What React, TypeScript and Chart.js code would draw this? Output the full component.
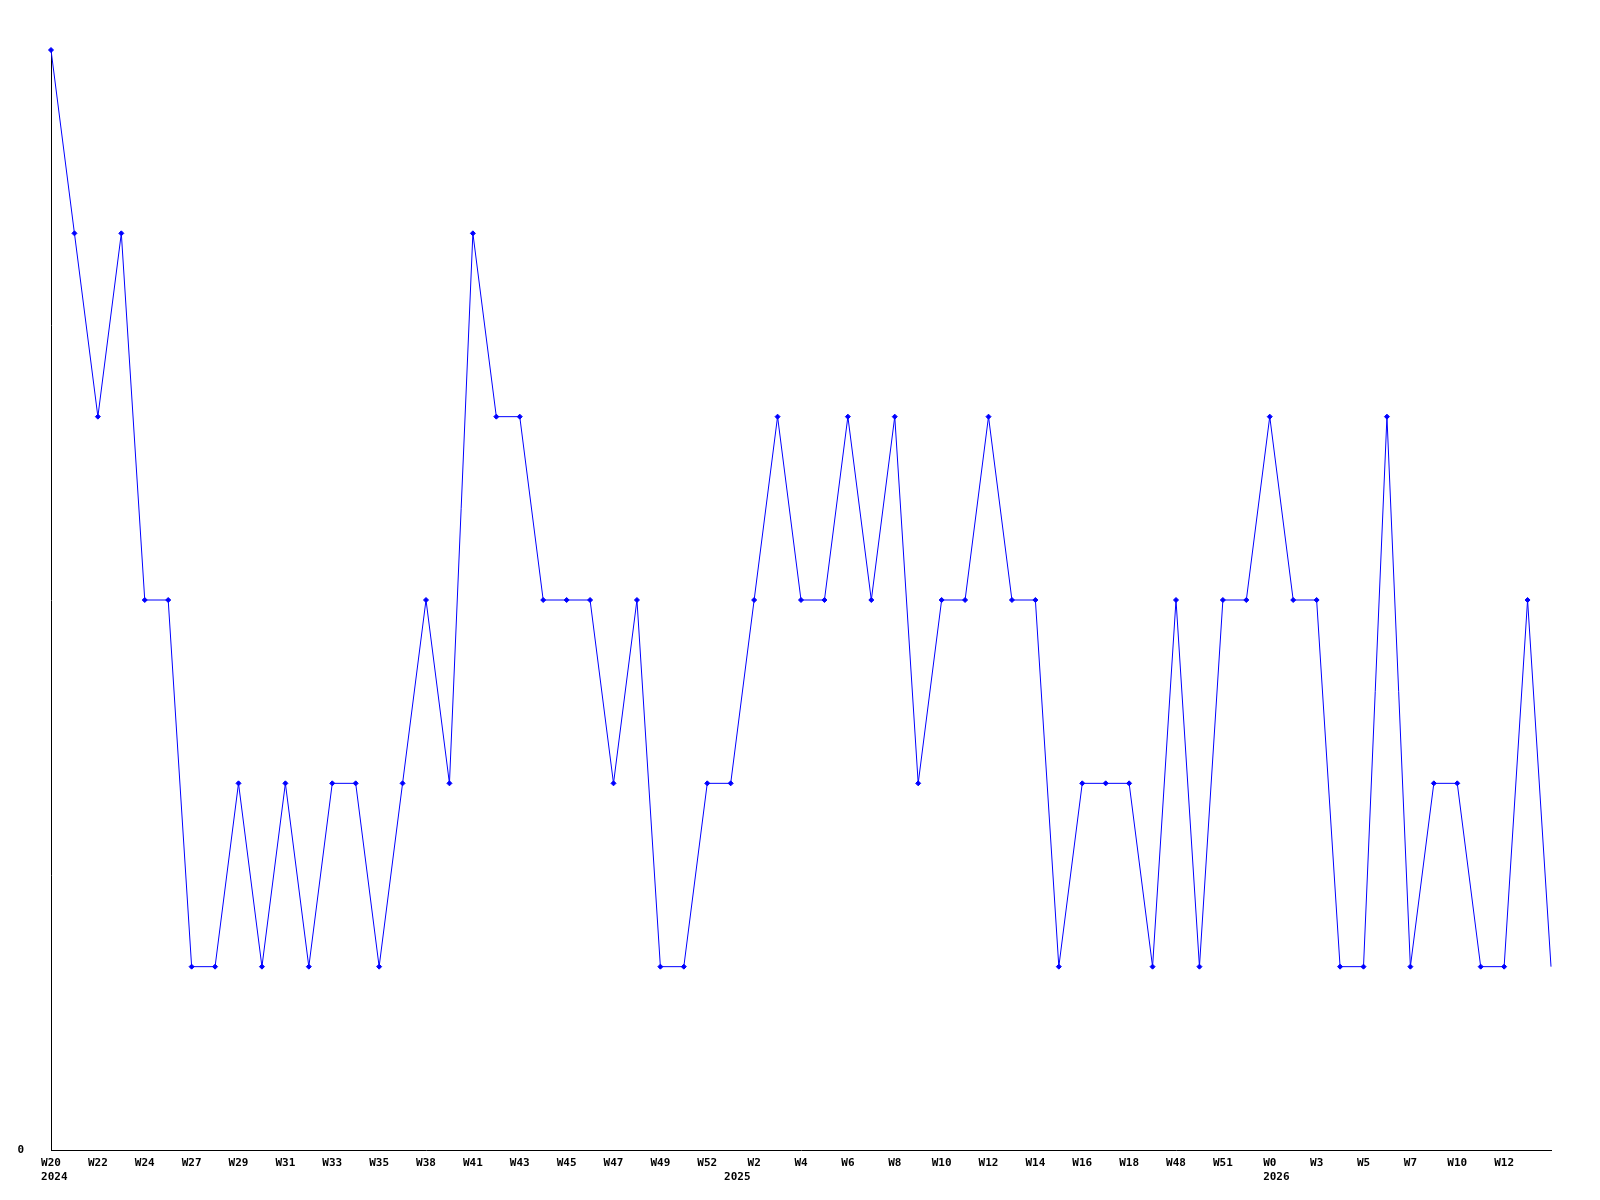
import React, { useEffect, useRef } from "react";
import { Chart, registerables } from "chart.js";

Chart.register(...registerables);

const weekLabels: string[] = [
  "W20", "W21", "W22", "W23", "W24", "W25", "W27", "W28", "W29", "W30",
  "W31", "W32", "W33", "W34", "W35", "W36", "W38", "W39", "W41", "W42",
  "W43", "W44", "W45", "W46", "W47", "W48", "W49", "W50", "W52", "W1",
  "W2", "W3", "W4", "W5", "W6", "W7", "W8", "W9", "W10", "W11",
  "W12", "W13", "W14", "W15", "W16", "W17", "W18", "W19", "W48", "W50",
  "W51", "W52", "W0", "W1", "W3", "W4", "W5", "W6", "W7", "W8",
  "W10", "W11", "W12", "W13", "W14",
];

const values: number[] = [
  6, 5, 4, 5, 3, 3, 1, 1, 2, 1,
  2, 1, 2, 2, 1, 2, 3, 2, 5, 4,
  4, 3, 3, 3, 2, 3, 1, 1, 2, 2,
  3, 4, 3, 3, 4, 3, 4, 2, 3, 3,
  4, 3, 3, 1, 2, 2, 2, 1, 3, 1,
  3, 3, 4, 3, 3, 1, 1, 4, 1, 2,
  2, 1, 1, 3, 1,
];

// first week index of each year, and the year text
const yearTickIndex: number[] = [0, 29, 52];
const yearTickText: string[] = ["2024", "2025", "2026"];

const yTickValues: number[] = [0];

const FONT_FAMILY = "'DejaVu Sans Mono', monospace";
const FONT_SIZE = 11;

export default function App() {
  const ref = useRef<HTMLCanvasElement | null>(null);

  useEffect(() => {
    if (!ref.current) return;
    const lastIdx = values.length - 1;
    const font = { family: FONT_FAMILY, size: FONT_SIZE, weight: "bold" as const, lineHeight: 1.36 };

    const yearPlugin = {
      id: "yearLabels",
      afterDraw(chart: any) {
        const xs = chart.scales.x;
        const ctx = chart.ctx;
        ctx.save();
        ctx.font = `bold ${FONT_SIZE}px ${FONT_FAMILY}`;
        ctx.fillStyle = "#000000";
        ctx.textAlign = "left";
        ctx.textBaseline = "middle";
        yearTickIndex.forEach((idx, k) => {
          const px = xs.getPixelForValue(idx);
          const w = ctx.measureText(weekLabels[idx]).width;
          ctx.fillText(yearTickText[k], px - w / 2, xs.top + 27);
        });
        ctx.restore();
      },
    };

    const chart = new Chart(ref.current, {
      type: "line",
      data: {
        labels: weekLabels,
        datasets: [
          {
            data: values,
            borderColor: "#0000ff",
            backgroundColor: "#0000ff",
            borderWidth: 1,
            tension: 0,
            pointStyle: "rectRot",
            pointRadius: values.map((_, i) => (i === lastIdx ? 0 : 2.5)),
            pointBorderWidth: 1,
            fill: false,
            clip: false,
          },
        ],
      },
      options: {
        animation: false,
        responsive: false,
        devicePixelRatio: 1,
        layout: { padding: { top: 50, right: 49, left: 0, bottom: 0 } },
        plugins: { legend: { display: false }, tooltip: { enabled: false } },
        scales: {
          x: {
            type: "category",
            offset: false,
            grid: { display: false, drawTicks: false },
            border: { display: true, color: "#000000", width: 1 },
            ticks: {
              autoSkip: false,
              maxRotation: 0,
              minRotation: 0,
              padding: 6,
              color: "#000000",
              font,
              callback: (_v: any, i: number) => {
                if (i % 2 !== 0 || i === lastIdx) return "";
                return weekLabels[i];
              },
            },
            afterFit: (scale: any) => {
              scale.height = 50;
            },
          },
          y: {
            min: 0,
            max: 6,
            grid: { display: false, drawTicks: false },
            border: { display: true, color: "#000000", width: 1 },
            ticks: {
              padding: 27,
              color: "#000000",
              font,
            },
            afterBuildTicks: (scale: any) => {
              scale.ticks = yTickValues.map((v) => ({ value: v }));
            },
            afterFit: (scale: any) => {
              scale.width = 51;
            },
          },
        },
      },
      plugins: [yearPlugin],
    });
    return () => chart.destroy();
  }, []);

  return (
    <div style={{ position: "fixed", left: 0, top: 0, width: 1600, height: 1200, background: "#ffffff" }}>
      <canvas ref={ref} width={1600} height={1200} style={{ display: "block" }} />
    </div>
  );
}
